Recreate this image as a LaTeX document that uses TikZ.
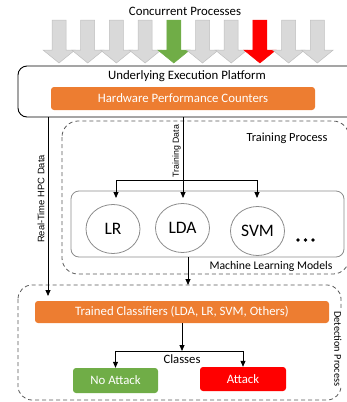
\documentclass[tikz,border=0pt]{standalone}
\usepackage{fontspec}
\setmainfont{Carlito}
\newfontfamily\arialf{Liberation Sans}
\usetikzlibrary{arrows.meta,calc,shapes.geometric}
\newcommand\fsz[1]{\fontsize{#1}{#1}\selectfont}
\definecolor{hpcorange}{HTML}{ED7D31}
\definecolor{okgreen}{HTML}{70AD47}
\definecolor{alarmred}{HTML}{FF0000}
\definecolor{procgray}{HTML}{D9D9D9}
\definecolor{procedge}{HTML}{BFBFBF}
\definecolor{modelgray}{HTML}{8C8C8C}
\definecolor{dashgray}{HTML}{595959}
\begin{document}
\begin{tikzpicture}[x=1pt,y=-1pt,
  arr/.style={-{Triangle[length=6pt,width=5pt]}, line width=0.8pt},
  conn/.style={line width=0.8pt},
  procarrow/.style={line width=0.5pt},
  filledbox/.style={rounded corners=3pt, text=white, font=\fsz{12.8}},
  model/.style={ellipse, draw=modelgray, line width=0.8pt, minimum width=54pt, minimum height=49pt, inner sep=0pt, font=\fsz{17.5}},
  phase/.style={draw=dashgray, dashed, dash pattern=on 4pt off 3pt, line width=0.8pt}
]
\useasboundingbox (0,0) rectangle (346,402);

% concurrent processes
\node[font=\fsz{12.8}] (title) at (185,11) {Concurrent Processes};
\foreach \i/\fc/\dc in {0/procgray/procedge,1/procgray/procedge,2/procgray/procedge,3/procgray/procedge,4/okgreen/okgreen,5/procgray/procedge,6/procgray/procedge,7/alarmred/alarmred,8/procgray/procedge,9/procgray/procedge}{
  \pgfmathsetmacro\cx{59+28.7*\i}
  \draw[procarrow, fill=\fc, draw=\dc] (\cx-7,20) -- (\cx+7,20) -- (\cx+7,50) -- (\cx+16,50) -- (\cx,63) -- (\cx-16,50) -- (\cx-7,50) -- cycle;
}

% execution platform
\draw[line width=0.9pt, rounded corners=9pt] (18,66) rectangle (356,117);
\node[font=\fsz{12.8}] (platform) at (187,76) {Underlying Execution Platform};
\node[filledbox, fill=hpcorange, minimum width=264pt, minimum height=23pt] (hpc) at (183,98.5) {Hardware Performance Counters};
\coordinate (platbot) at (183,117);
\coordinate (rtsrc) at (48,117);

% training process
\draw[phase, rounded corners=16pt] (62,121) rectangle (349,274);
\node[font=\fsz{12.4}] (trainlbl) at (287,138) {Training Process};
\draw[rounded corners=8pt, draw=modelgray, line width=0.8pt] (71,191) rectangle (344,257);
\node[model] (lr) at (113,229) {LR};
\node[model] (lda) at (182.5,228) {LDA};
\node[model] (svm) at (257.5,231) {SVM};
% ellipsis after the models
\foreach \dx in {298,305.5,313} \fill (\dx,240) circle (1.8);
\node[font=\fsz{11.7}] (mllbl) at (271,266) {Machine Learning Models};
\coordinate (split) at (183,180);
\coordinate (lrin) at (116,198);
\coordinate (ldain) at (183,198);
\coordinate (svmin) at (257,198);
\coordinate (mlout) at (188,257);

\draw[conn] (platbot) -- (split);
\node[font=\arialf\fsz{8.8}, rotate=90] (tdlbl) at (176.5,151) {Training Data};
\draw[arr] (split) -- (ldain);
\draw[arr] (split) -| (lrin);
\draw[arr] (split) -| (svmin);

% detection process
\draw[phase, rounded corners=14pt] (18,285) rectangle (341,400);
\node[fill=white, inner sep=1pt, rotate=-90, font=\fsz{10.3}] (detlbl) at (338,349) {Detection Process};
\coordinate (detin) at (188,285);
\draw[arr] (mlout) -- (detin);

\coordinate (rtend) at (48,296);
\draw[arr] (rtsrc) -- (rtend);
\node[font=\arialf\fsz{9.4}, rotate=90] (rtlbl) at (41,199) {Real-Time HPC Data};

\node[filledbox, fill=hpcorange, minimum width=294pt, minimum height=22pt] (clf) at (182,312) {Trained Classifiers (LDA, LR, SVM, Others)};
\coordinate (cls) at (182,351);
\draw[arr] (clf.south) -- (cls);
\node[filledbox, fill=okgreen, minimum width=85pt, minimum height=25pt] (noatk) at (115.5,380.5) {No Attack};
\node[filledbox, fill=alarmred, minimum width=86pt, minimum height=24pt] (atk) at (243,379) {Attack};
\draw[conn] (115,351) -- (243,351);
\draw[arr] (cls) -| (noatk.north);
\draw[arr] (cls) -| (atk.north);
\node[font=\fsz{12.7}] (clslbl) at (182,359.5) {Classes};
\end{tikzpicture}
\end{document}
